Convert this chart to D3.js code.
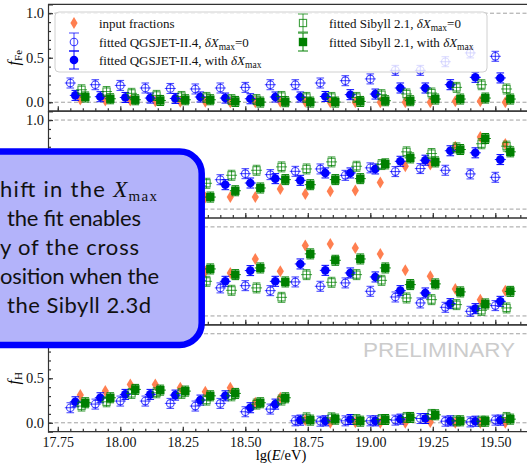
<!DOCTYPE html>
<html>
<head>
<meta charset="utf-8">
<script src="https://cdn.jsdelivr.net/npm/d3@7/dist/d3.min.js"></script>
<style>
  body { margin: 0; background: #fff; }
  svg { display: block; font-family: "Liberation Serif", "Times New Roman", serif; }
</style>
</head>
<body>
<div id="chart"></div>
<script>
// Data: bin energies (lg E/eV) and fractions per element
const lgE = [17.8, 17.9, 18.0, 18.1, 18.2, 18.3, 18.4, 18.5, 18.6, 18.7, 18.8, 18.9, 19.0, 19.1, 19.2, 19.3, 19.4, 19.5];
const xTickLabels = [17.75, 18.00, 18.25, 18.50, 18.75, 19.00, 19.25, 19.50];
const yTickLabels = [0.0, 0.5, 1.0];

const feInput = [0.03, 0.02, 0.02, 0.01, 0.005, 0.005, 0.0, 0.0, 0.005, 0.005, 0.0, 0.0, 0.0, 0.0, 0.0, 0.01, 0.01, 0.0];
const feQ0 = [0.216, 0.197, 0.189, 0.160, 0.155, 0.149, 0.160, 0.167, 0.197, 0.197, 0.216, 0.242, 0.262, 0.358, 0.358, 0.455, 0.554, 0.516];
const feQdx = [0.077, 0.062, 0.054, 0.047, 0.043, 0.059, 0.047, 0.039, 0.059, 0.059, 0.065, 0.085, 0.092, 0.16, 0.16, 0.197, 0.28, 0.273];
const feS0 = [0.14, 0.12, 0.10, 0.077, 0.065, 0.054, 0.03, 0.03, 0.065, 0.054, 0.054, 0.054, 0.085, 0.093, 0.104, 0.167, 0.197, 0.149];
const feSdx = [0.059, 0.039, 0.028, 0.02, 0.028, 0.028, 0.009, 0.002, 0.006, 0.002, 0.002, 0.009, 0.017, 0.017, 0.036, 0.036, 0.047, 0.036];

const nInput = [0.10, 0.11, 0.12, 0.12, 0.13, 0.13, 0.135, 0.135, 0.226, 0.17, 0.2, 0.21, 0.3, 0.48, 0.5, 0.7, 0.81, 0.73];
const nQ0 = [0.2, 0.22, 0.25, 0.28, 0.3, 0.32, 0.33, 0.398, 0.387, 0.424, 0.451, 0.379, 0.463, 0.421, 0.455, 0.436, 0.395, 0.357];
const nQdx = [0.15, 0.18, 0.2, 0.22, 0.24, 0.26, 0.274, 0.293, 0.342, 0.323, 0.406, 0.406, 0.451, 0.537, 0.549, 0.655, 0.632, 0.556];
const nS0 = [0.22, 0.25, 0.27, 0.29, 0.3, 0.29, 0.38, 0.436, 0.474, 0.451, 0.530, 0.481, 0.5, 0.643, 0.624, 0.688, 0.734, 0.707];
const nSdx = [0.1, 0.11, 0.12, 0.13, 0.13, 0.135, 0.206, 0.237, 0.331, 0.274, 0.331, 0.342, 0.508, 0.575, 0.530, 0.669, 0.793, 0.643];

const heInput = [0.4, 0.45, 0.5, 0.45, 0.5, 0.5, 0.483, 0.640, 0.501, 0.790, 0.809, 0.764, 0.697, 0.512, 0.445, 0.303, 0.183, 0.284];
const heQ0 = [0.3, 0.3, 0.32, 0.3, 0.3, 0.32, 0.315, 0.340, 0.284, 0.382, 0.333, 0.371, 0.277, 0.213, 0.146, 0.097, 0.052, 0.116];
const heQdx = [0.35, 0.38, 0.4, 0.38, 0.4, 0.4, 0.389, 0.509, 0.389, 0.584, 0.512, 0.483, 0.438, 0.284, 0.258, 0.138, 0.082, 0.164];
const heS0 = [0.3, 0.3, 0.32, 0.3, 0.35, 0.389, 0.288, 0.315, 0.209, 0.464, 0.378, 0.464, 0.4, 0.202, 0.183, 0.127, 0.063, 0.09];
const heSdx = [0.45, 0.48, 0.5, 0.48, 0.5, 0.528, 0.464, 0.539, 0.382, 0.697, 0.625, 0.640, 0.539, 0.352, 0.36, 0.27, 0.135, 0.276];

const hInput = [0.311, 0.356, 0.431, 0.431, 0.393, 0.348, 0.393, 0.225, 0.281, 0.03, 0.0, 0.007, 0.0, 0.0, 0.01, 0.0, 0.0, 0.0];
const hQ0 = [0.169, 0.210, 0.244, 0.244, 0.218, 0.188, 0.218, 0.124, 0.154, 0.022, 0.018, 0.022, 0.022, 0.03, 0.048, 0.018, 0.01, 0.03];
const hQdx = [0.236, 0.281, 0.319, 0.319, 0.311, 0.255, 0.303, 0.169, 0.210, 0.03, 0.022, 0.037, 0.022, 0.041, 0.048, 0.022, 0.018, 0.03];
const hS0 = [0.188, 0.236, 0.330, 0.337, 0.330, 0.255, 0.303, 0.210, 0.255, 0.056, 0.056, 0.037, 0.037, 0.06, 0.094, 0.022, 0.018, 0.06];
const hSdx = [0.225, 0.281, 0.375, 0.367, 0.356, 0.303, 0.330, 0.225, 0.281, 0.03, 0.041, 0.018, 0.037, 0.06, 0.09, 0.022, 0.018, 0.041];

const elements = ["Fe", "N", "He", "H"];
const panelData = [
  [feInput, feQ0, feQdx, feS0, feSdx],
  [nInput, nQ0, nQdx, nS0, nSdx],
  [heInput, heQ0, heQdx, heS0, heSdx],
  [hInput, hQ0, hQdx, hS0, hSdx]
];

// series: input, QGSJET dX=0, QGSJET dX, Sibyll dX=0, Sibyll dX (x shift in lg E)
const seriesShift = [0.04, 0.0, 0.02, 0.045, 0.06];
const seriesMarker = ["diamond", "openCircle", "filledCircle", "openSquare", "filledSquare"];

// Dimensions
const width = 527;
const height = 465;
const left = 48;
const plotRight = 545;
const top0 = 4.3;
const panelH = 106.85;

// callout box (covers part of panels 2-4)
const box = { x: -40, y: 151.5, w: 241.7, h: 193.5 };

const svg = d3.select("#chart").append("svg")
  .attr("width", width)
  .attr("height", height);

const x = d3.scaleLinear().domain([17.75, 19.75]).range([57.8, 557.8]);

const colors = { orange: "#ff7f50", blue: "#0000ff", green: "#008000" };

function drawMarker(g, kind, cx, cy, legend) {
  const h = legend ? 9 : 5;
  const cap = legend ? 5 : 3.8;
  if (kind === "diamond") {
    g.append("path")
      .attr("d", `M${cx},${cy - 6}L${cx + 3.6},${cy}L${cx},${cy + 6}L${cx - 3.6},${cy}Z`)
      .attr("fill", colors.orange);
    return;
  }
  const col = kind.endsWith("Circle") ? colors.blue : colors.green;
  const open = kind.startsWith("open");
  const op = open ? 0.75 : 1;
  let d = `M${cx},${cy - h}V${cy + h}M${cx - cap},${cy - h}H${cx + cap}M${cx - cap},${cy + h}H${cx + cap}`;
  if (!legend) d += `M${cx - 5.5},${cy}H${cx + 5.5}`;
  g.append("path").attr("d", d)
    .attr("stroke", col).attr("stroke-width", 1).attr("fill", "none").attr("opacity", op);
  if (kind.endsWith("Circle")) {
    g.append("circle").attr("cx", cx).attr("cy", cy).attr("r", open ? 3.8 : 4.3)
      .attr("fill", open ? "none" : col)
      .attr("stroke", col).attr("stroke-width", open ? 1.1 : 0)
      .attr("opacity", op);
  } else {
    const s = open ? 7.2 : 8.4;
    g.append("rect").attr("x", cx - s / 2).attr("y", cy - s / 2).attr("width", s).attr("height", s)
      .attr("fill", open ? "none" : col)
      .attr("stroke", col).attr("stroke-width", open ? 1.1 : 0)
      .attr("opacity", op);
  }
}

// PRELIMINARY watermark
svg.append("text")
  .attr("x", 363).attr("y", 357)
  .attr("textLength", 152).attr("lengthAdjust", "spacingAndGlyphs")
  .style("font-family", "'Liberation Sans', Arial, sans-serif")
  .style("font-size", "21px")
  .style("fill", "#cccccc")
  .text("PRELIMINARY");

const underBox = yy => yy > box.y - 4 && yy < box.y + box.h + 4;

panelData.forEach((series, p) => {
  const pTop = top0 + p * panelH;
  const y = d3.scaleLinear().domain([-0.1, 1.1]).range([pTop + panelH, pTop]);
  const g = svg.append("g");

  g.append("clipPath").attr("id", "clip" + p)
    .append("rect").attr("x", left).attr("y", pTop).attr("width", plotRight - left).attr("height", panelH);

  // dashed reference lines at 0 and 1
  g.selectAll(".ref").data([0, 1]).join("line")
    .attr("x1", left).attr("x2", plotRight)
    .attr("y1", d => y(d)).attr("y2", d => y(d))
    .attr("stroke", "#a0a0a0").attr("stroke-width", 1)
    .attr("stroke-dasharray", "4,2.5");

  // points
  const pts = g.append("g").attr("clip-path", `url(#clip${p})`);
  series.forEach((vals, s) => {
    vals.forEach((v, i) => {
      drawMarker(pts, seriesMarker[s], x(lgE[i] + seriesShift[s]), y(v), false);
    });
  });

  // left axis (ticks inward); labels hidden by the callout box are left out
  const yAxis = g.append("g").attr("transform", `translate(${left},0)`)
    .call(d3.axisLeft(y).tickValues(yTickLabels).tickSize(-5).tickPadding(4).tickFormat(d3.format(".1f")));
  yAxis.selectAll(".tick").filter(d => underBox(y(d))).select("text").remove();
  g.append("g").attr("transform", `translate(${left},0)`)
    .call(d3.axisLeft(y).tickValues(d3.range(0, 11).map(d => d / 10)).tickSize(-3).tickFormat(""))
    .call(a => a.select(".domain").remove());
  yAxis.selectAll("text").style("font-size", "14.5px").style("font-family", "'Liberation Serif', serif").attr("fill", "#111");

  // bottom axis (ticks inward)
  const xAxis = g.append("g").attr("transform", `translate(0,${pTop + panelH})`)
    .call(d3.axisBottom(x).tickValues(xTickLabels).tickSize(-5).tickPadding(5)
      .tickFormat(p === 3 ? d3.format(".2f") : ""));
  g.append("g").attr("transform", `translate(0,${pTop + panelH})`)
    .call(d3.axisBottom(x).tickValues(d3.range(0, 40).map(d => 17.75 + d * 0.05)).tickSize(-3).tickFormat(""))
    .call(a => a.select(".domain").remove());
  xAxis.selectAll("text").style("font-size", "14px").style("font-family", "'Liberation Serif', serif").attr("fill", "#111");
  xAxis.select(".domain").attr("d", `M${left},0H${plotRight}`);

  g.selectAll(".domain, .tick line").attr("stroke", "#333").attr("stroke-width", 1.2);

  // top frame line
  g.append("line").attr("x1", left).attr("x2", plotRight)
    .attr("y1", pTop).attr("y2", pTop).attr("stroke", "#333").attr("stroke-width", 1.2);

  // y label (hidden ones under the box are left out)
  if (!underBox(y(0.5))) {
    const lab = g.append("text")
      .attr("transform", `translate(19,${y(0.5)}) rotate(-90)`)
      .attr("text-anchor", "middle")
      .style("font-size", "16px");
    lab.append("tspan").style("font-style", "italic").text("f");
    lab.append("tspan").attr("dy", 3).style("font-size", "11px").text(elements[p]);
  }
});

// x axis title
const xt = svg.append("text").attr("x", 281).attr("y", 460)
  .attr("text-anchor", "middle").style("font-size", "14.5px");
xt.append("tspan").text("lg(");
xt.append("tspan").style("font-style", "italic").text("E");
xt.append("tspan").text("/eV)");

// Legend
const lg = svg.append("g");
lg.append("rect").attr("x", 55).attr("y", 12).attr("width", 432).attr("height", 60).attr("rx", 4)
  .attr("fill", "#fff").attr("fill-opacity", 0.8).attr("stroke", "#d0d0d0").attr("stroke-width", 1);

const legendItems = [
  { s: 0, cx: 74, cy: 23, tx: 99, text: "input fractions" },
  { s: 1, cx: 74, cy: 42, tx: 99, text: "fitted QGSJET-II.4, ", dx: "=0" },
  { s: 2, cx: 74, cy: 60, tx: 99, text: "fitted QGSJET-II.4, with ", dx: "" },
  { s: 3, cx: 303, cy: 23, tx: 329, text: "fitted Sibyll 2.1, ", dx: "=0" },
  { s: 4, cx: 303, cy: 42, tx: 329, text: "fitted Sibyll 2.1, with ", dx: "" }
];
legendItems.forEach(it => {
  drawMarker(lg, seriesMarker[it.s], it.cx, it.cy, true);
  const t = lg.append("text").attr("x", it.tx).attr("y", it.cy + 4.5)
    .style("font-size", "13px").attr("fill", "#111");
  t.append("tspan").text(it.text);
  if (it.dx !== undefined) {
    t.append("tspan").style("font-style", "italic").text("δX");
    t.append("tspan").attr("dy", 3).style("font-size", "9.5px").text("max");
    if (it.dx) t.append("tspan").attr("dy", -3).text(it.dx);
  }
});

// Callout box
svg.append("rect")
  .attr("x", box.x).attr("y", box.y).attr("width", box.w).attr("height", box.h).attr("rx", 22)
  .attr("fill", "#b3b3fa").attr("stroke", "#0000ff").attr("stroke-width", 6.5);

const boxLines = [
  { start: 0, end: 157, base: 197 },
  { start: 7, end: 141, base: 226, text: "the fit enables" },
  { start: 0, end: 139, base: 255, text: "y of the cross" },
  { start: 0, end: 159, base: 284, text: "osition when the" },
  { start: 7, end: 151, base: 313, text: "the Sibyll 2.3d" }
];
boxLines.forEach((l, i) => {
  const t = svg.append("text").attr("x", l.start).attr("y", l.base)
    .attr("textLength", l.end - l.start).attr("lengthAdjust", "spacing")
    .style("font-family", "Lato, 'Open Sans', sans-serif")
    .style("font-size", "22px").attr("fill", "#111");
  if (i === 0) {
    t.append("tspan").text("hift in the ");
    t.append("tspan").style("font-style", "italic").style("font-family", "'Liberation Serif', serif").style("font-size", "23px").text("X");
    t.append("tspan").attr("dy", 4).style("font-size", "15px").style("font-family", "'Liberation Serif', serif").text("max");
  } else {
    t.text(l.text);
  }
});
</script>
</body>
</html>
